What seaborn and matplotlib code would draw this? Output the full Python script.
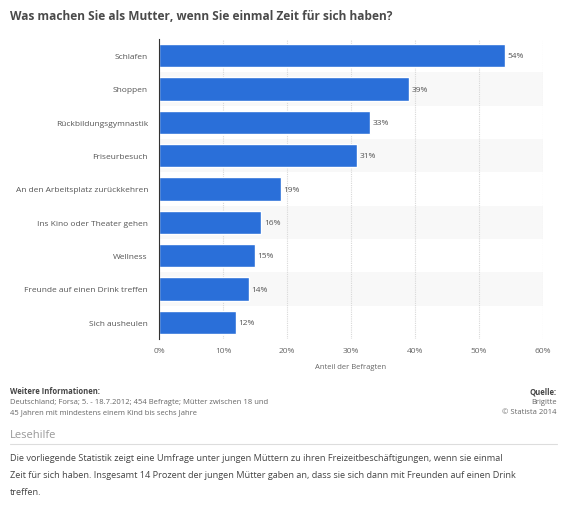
import matplotlib
matplotlib.use("Agg")
import matplotlib.pyplot as plt
import seaborn as sns
import pandas as pd

categories = ["Schlafen", "Shoppen", "Rückbildungsgymnastik", "Friseurbesuch",
              "An den Arbeitsplatz zurückkehren", "Ins Kino oder Theater gehen",
              "Wellness", "Freunde auf einen Drink treffen", "Sich ausheulen"]
values = [54, 39, 33, 31, 19, 16, 15, 14, 12]
xticks = [0, 10, 20, 30, 40, 50, 60]

sns.set_style("white")
plt.rcParams['font.family'] = ['Open Sans', 'DejaVu Sans']

df = pd.DataFrame({"cat": categories, "val": values})

fig = plt.figure(figsize=(5.65, 5.06), dpi=100)
ax = fig.add_axes([159/565, 1-340/506, 384/565, 300/506])

# alternating row bands
for i in range(len(categories)):
    if i % 2 == 1:
        ax.axhspan(i-0.5, i+0.5, color="#f8f8f8", zorder=0, lw=0)

sns.barplot(data=df, x="val", y="cat", color="#2a6fd9", saturation=1,
            width=0.7, ax=ax, zorder=3)

ax.set_xlim(0, 60)
ax.set_ylim(len(categories)-0.5, -0.5)
ax.set_xticks(xticks)
ax.set_xticklabels([f"{t}%" for t in xticks], fontsize=6, color="#666")
ax.tick_params(axis="y", labelsize=6, labelcolor="#555", length=0, pad=8)
ax.tick_params(axis="x", length=0, pad=6)
ax.set_ylabel("")
ax.set_xlabel("Anteil der Befragten", fontsize=5.5, color="#666", labelpad=6)
for t in xticks[1:]:
    ax.axvline(t, color="#d8d8d8", lw=0.8, ls=(0, (1, 1)), zorder=1)
for s in ["top", "right", "bottom"]:
    ax.spines[s].set_visible(False)
ax.spines["left"].set_color("#333")
ax.spines["left"].set_linewidth(0.8)
ax.spines["left"].set_zorder(5)

for i, v in enumerate(values):
    ax.text(v + 0.4, i, f"{v}%", va="center", ha="left", fontsize=6, color="#555", zorder=4)

fig.text(10/565, 1-17/506, "Was machen Sie als Mutter, wenn Sie einmal Zeit für sich haben?",
         fontsize=8.6, fontweight="bold", color="#4a4a4a", va="center", ha="left")

fig.text(10/565, 1-392/506, "Weitere Informationen:", fontsize=5.5, fontweight="bold", color="#444", va="center")
fig.text(10/565, 1-403/506, "Deutschland; Forsa; 5. - 18.7.2012; 454 Befragte; Mütter zwischen 18 und",
         fontsize=5.5, color="#666", va="center")
fig.text(10/565, 1-413/506, "45 Jahren mit mindestens einem Kind bis sechs Jahre",
         fontsize=5.5, color="#666", va="center")
fig.text(557/565, 1-392/506, "Quelle:", fontsize=5.5, fontweight="bold", color="#444", va="center", ha="right")
fig.text(557/565, 1-403/506, "Brigitte", fontsize=5.5, color="#666", va="center", ha="right")
fig.text(557/565, 1-413/506, "© Statista 2014", fontsize=5.5, color="#666", va="center", ha="right")

fig.text(10/565, 1-435/506, "Lesehilfe", fontsize=8, color="#999", va="center")
fig.add_artist(plt.Line2D([10/565, 557/565], [1-445/506, 1-445/506], color="#ddd", lw=0.8))
para = ["Die vorliegende Statistik zeigt eine Umfrage unter jungen Müttern zu ihren Freizeitbeschäftigungen, wenn sie einmal",
        "Zeit für sich haben. Insgesamt 14 Prozent der jungen Mütter gaben an, dass sie sich dann mit Freunden auf einen Drink",
        "treffen."]
for k, line in enumerate(para):
    fig.text(10/565, 1-(459+17*k)/506, line, fontsize=6.6, color="#444", va="center")

fig.savefig("out.png", dpi=100)
